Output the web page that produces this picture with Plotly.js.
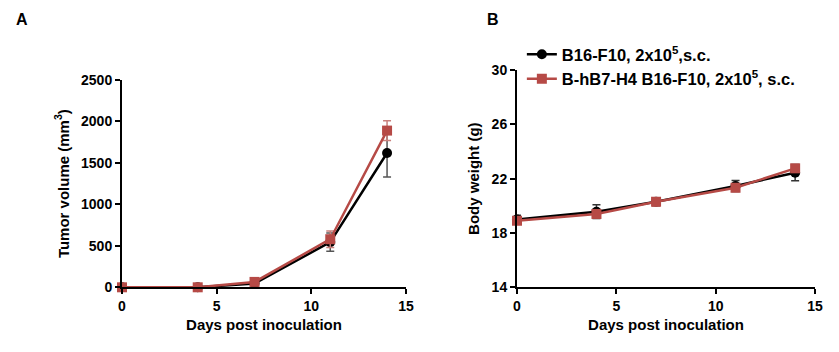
<!DOCTYPE html>
<html><head><meta charset="utf-8">
<script src="https://cdn.plot.ly/plotly-3.0.1.min.js"></script>
<style>body{margin:0;background:#fff}#c{width:839px;height:352px}</style>
</head><body><div id="c"></div>
<script>
const days = [0, 4, 7, 11, 14];
const seriesNames = ['B16-F10, 2x10<sup>5</sup>,s.c.', 'B-hB7-H4 B16-F10, 2x10<sup>5</sup>, s.c.'];
const tumorBlack = [0, 0, 45, 545, 1620];
const tumorBlackErr = [0, 0, 15, 110, 290];
const tumorRed = [0, 0, 65, 580, 1890];
const tumorRedErr = [0, 0, 15, 100, 120];
const weightBlack = [19.0, 19.57, 20.3, 21.46, 22.44];
const weightBlackErr = [0.3, 0.5, 0.3, 0.4, 0.6];
const weightRed = [18.9, 19.4, 20.3, 21.33, 22.76];
const weightRedErr = [0.2, 0.2, 0.3, 0.2, 0.2];
const xTicks = [0, 5, 10, 15];
const tumorTicks = [0, 500, 1000, 1500, 2000, 2500];
const weightTicks = [14, 18, 22, 26, 30];

const BLACK = '#000000', RED = '#b64a46';
const FONT = 'Liberation Sans, Arial, sans-serif';

function tr(x, y, err, name, color, sym, xa, ya, showleg, errColor) {
  return {
    x: x, y: y, name: name, type: 'scatter', mode: 'lines+markers',
    xaxis: xa, yaxis: ya, showlegend: showleg, cliponaxis: false,
    line: {color: color, width: 2.5},
    marker: {color: color, symbol: sym, size: 10},
    error_y: {type: 'data', array: err, visible: true, color: errColor, thickness: 1.5, width: 4}
  };
}

const data = [
  tr(days, tumorBlack, tumorBlackErr, seriesNames[0], BLACK, 'circle', 'x', 'y', false, '#555'),
  tr(days, tumorRed, tumorRedErr, seriesNames[1], RED, 'square', 'x', 'y', false, '#c9807c'),
  tr(days, weightBlack, weightBlackErr, seriesNames[0], BLACK, 'circle', 'x2', 'y2', true, '#333'),
  tr(days, weightRed, weightRedErr, seriesNames[1], RED, 'square', 'x2', 'y2', true, '#c9807c')
];

const axCommon = {
  showline: true, linecolor: '#000', linewidth: 2, ticks: 'outside', ticklen: 5, tickwidth: 2,
  tickcolor: '#000', showgrid: false, zeroline: false,
  tickfont: {family: FONT, size: 14, color: '#000', weight: 'bold'}
};

const layout = {
  width: 839, height: 352, margin: {l: 0, r: 0, t: 0, b: 0},
  paper_bgcolor: '#fff', plot_bgcolor: '#fff',
  font: {family: FONT, color: '#000'},
  xaxis: Object.assign({}, axCommon, {domain: [0.1454, 0.4839], range: [0, 15], tickvals: xTicks, anchor: 'y',
    title: {text: 'Days post inoculation', font: {family: FONT, size: 15, weight: 'bold'}, standoff: 6}}),
  yaxis: Object.assign({}, axCommon, {domain: [0.1838, 0.7727], range: [0, 2500], tickvals: tumorTicks, anchor: 'x',
    title: {text: 'Tumor volume (mm<sup>3</sup>)', font: {family: FONT, size: 15, weight: 'bold'}, standoff: 8}}),
  xaxis2: Object.assign({}, axCommon, {domain: [0.6162, 0.9714], range: [0, 15], tickvals: xTicks, anchor: 'y2',
    title: {text: 'Days post inoculation', font: {family: FONT, size: 15, weight: 'bold'}, standoff: 6}}),
  yaxis2: Object.assign({}, axCommon, {domain: [0.1838, 0.8011], range: [14, 30], tickvals: weightTicks, anchor: 'x2',
    title: {text: 'Body weight (g)', font: {family: FONT, size: 15, weight: 'bold'}, standoff: 8}}),
  legend: {x: 0.622, y: 0.895, xanchor: 'left', yanchor: 'top', bgcolor: 'rgba(0,0,0,0)',
    font: {family: FONT, size: 16.5, weight: 'bold'}, tracegroupgap: 0, itemwidth: 30},
  annotations: [
    {text: 'A', x: 22 / 839, y: 1 - 20 / 352, xref: 'paper', yref: 'paper', xanchor: 'center', yanchor: 'middle', showarrow: false,
      font: {family: FONT, size: 16, weight: 'bold'}},
    {text: 'B', x: 493 / 839, y: 1 - 20 / 352, xref: 'paper', yref: 'paper', xanchor: 'center', yanchor: 'middle', showarrow: false,
      font: {family: FONT, size: 16, weight: 'bold'}}
  ]
};

Plotly.newPlot('c', data, layout, {staticPlot: true});
</script></body></html>
